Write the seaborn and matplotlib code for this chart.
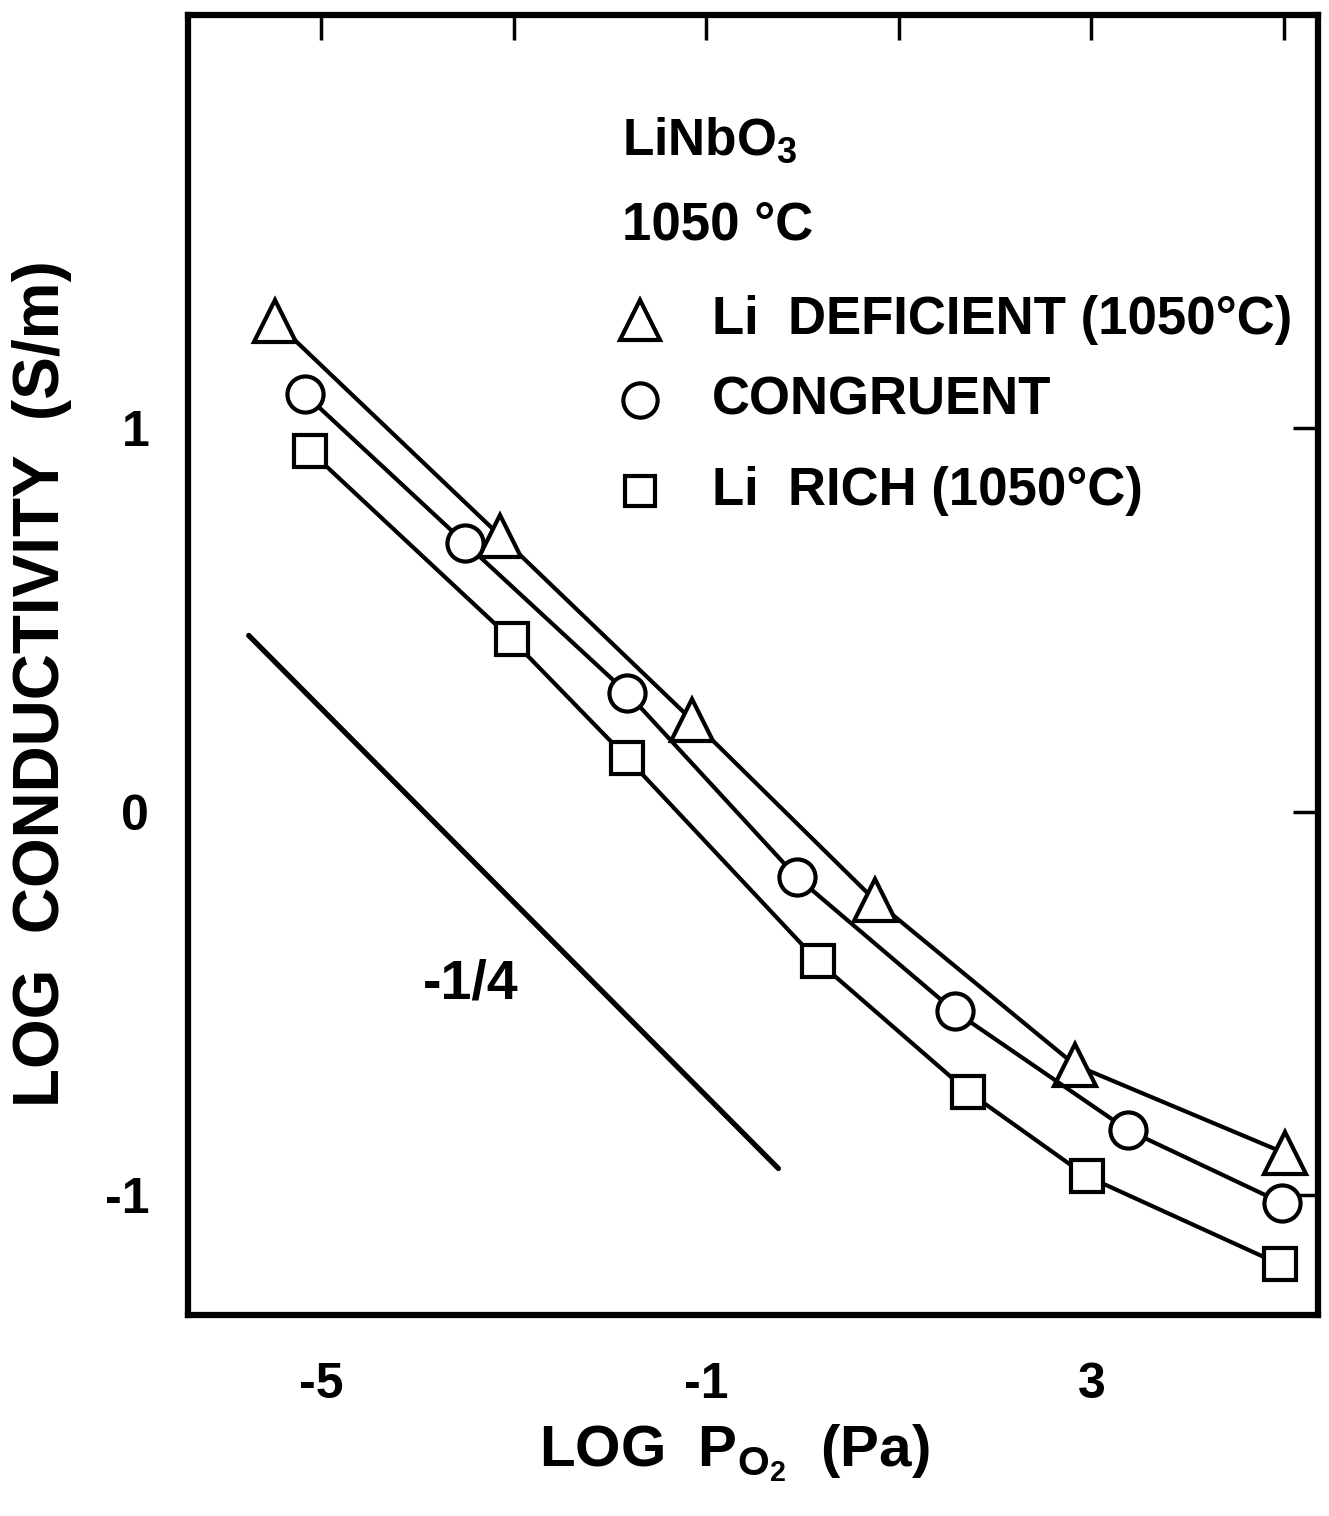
import numpy as np
import pandas as pd
import seaborn as sns
import matplotlib
matplotlib.use("Agg")
import matplotlib.pyplot as plt

# data (log PO2 in Pa, log conductivity in S/m)
deficient_x = [-5.48, -3.14, -1.15, 0.75, 2.83, 5.01]
deficient_y = [1.28, 0.72, 0.24, -0.23, -0.66, -0.89]
congruent_x = [-5.17, -3.50, -1.82, -0.06, 1.58, 3.38, 4.98]
congruent_y = [1.09, 0.70, 0.31, -0.17, -0.52, -0.83, -1.02]
rich_x = [-5.11, -3.02, -1.82, 0.16, 1.72, 2.95, 4.96]
rich_y = [0.94, 0.45, 0.14, -0.39, -0.73, -0.95, -1.18]
slope_x = [-5.75, -0.25]
slope_y = [0.46, -0.93]

xticks = [-5, -3, -1, 1, 3, 5]
xticklabels = ["-5", "", "-1", "", "3", ""]
yticks = [-1, 0, 1]
yticklabels = ["-1", "0", "1"]

sns.set_style("white")
plt.rcParams["font.family"] = ["Liberation Sans", "DejaVu Sans"]
plt.rcParams["font.weight"] = "bold"
plt.rcParams["text.color"] = "black"
plt.rcParams["axes.labelcolor"] = "black"
plt.rcParams["xtick.color"] = "black"
plt.rcParams["ytick.color"] = "black"
plt.rcParams["axes.unicode_minus"] = False
plt.rcParams["mathtext.fontset"] = "custom"
plt.rcParams["mathtext.rm"] = "Liberation Sans:bold"
plt.rcParams["mathtext.it"] = "Liberation Sans:bold"
plt.rcParams["mathtext.bf"] = "Liberation Sans:bold"

fig = plt.figure(figsize=(13.29, 15.16), dpi=100)
ax = fig.add_axes([0.1415, 0.1326, 0.850, 0.8575])

series = [
    (deficient_x, deficient_y, "^", 30),
    (congruent_x, congruent_y, "o", 26),
    (rich_x, rich_y, "s", 23),
]
for xs, ys, mk, ms in series:
    df = pd.DataFrame({"x": xs, "y": ys})
    sns.lineplot(data=df, x="x", y="y", ax=ax, color="black", lw=3,
                 marker=mk, markersize=ms, markerfacecolor="white",
                 markeredgecolor="black", markeredgewidth=3, sort=False)

sns.lineplot(x=slope_x, y=slope_y, ax=ax, color="black", lw=3.8)
ax.text(-3.45, -0.45, "-1/4", fontsize=40, ha="center", va="center")

# legend block drawn as text
ax.text(-1.87, 1.75, r"LiNbO$_3$", fontsize=37, ha="left", va="center")
ax.text(-1.87, 1.53, "1050 °C", fontsize=38, ha="left", va="center")
legend_rows = [
    ("^", 30, 1.283, "Li  DEFICIENT (1050°C)"),
    ("o", 26, 1.073, "CONGRUENT"),
    ("s", 23, 0.838, "Li  RICH (1050°C)"),
]
for mk, ms, yy, label in legend_rows:
    ax.plot([-1.69], [yy], marker=mk, markersize=ms * 0.95, mfc="white",
            mec="black", mew=3, ls="none")
    ax.text(-0.94, yy, label, fontsize=38, ha="left", va="center")

ax.set_xlim(-6.38, 5.35)
ax.set_ylim(-1.312, 2.078)
ax.set_xticks(xticks)
ax.set_xticklabels(xticklabels)
ax.set_yticks(yticks)
ax.set_yticklabels(yticklabels)
ax.tick_params(axis="both", direction="in", length=18, width=2.5,
               top=True, right=True, labelsize=36)
ax.tick_params(axis="x", pad=34)
ax.tick_params(axis="y", pad=28)
for sp in ax.spines.values():
    sp.set_linewidth(4.5)
    sp.set_color("black")

ax.set_xlabel(r"LOG  P$_{\mathrm{O}_{2}}$  (Pa)", fontsize=42, fontweight="bold")
ax.set_ylabel("LOG  CONDUCTIVITY  (S/m)", fontsize=46, fontweight="bold")
ax.xaxis.set_label_coords(0.484, -0.083)
ax.yaxis.set_label_coords(-0.103, 0.486)

fig.savefig("out.png", dpi=100)
